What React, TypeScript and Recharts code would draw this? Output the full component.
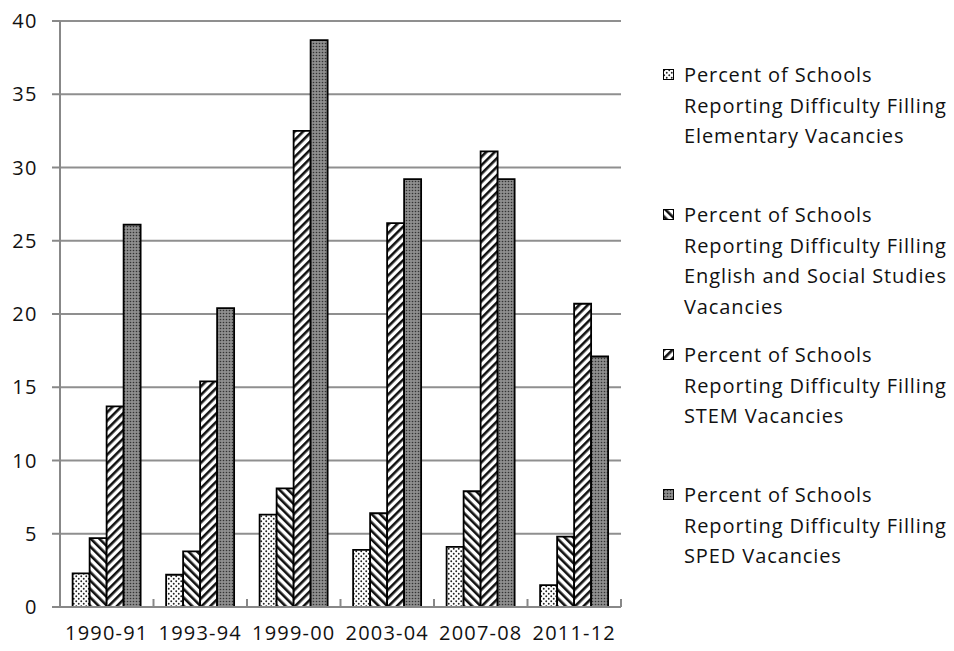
import React from 'react'
import { BarChart, Bar, XAxis, YAxis, CartesianGrid, Legend } from 'recharts'

const years = ['1990-91', '1993-94', '1999-00', '2003-04', '2007-08', '2011-12']
const elementary = [2.3, 2.2, 6.3, 3.9, 4.1, 1.5]
const englishSocial = [4.7, 3.8, 8.1, 6.4, 7.9, 4.8]
const stem = [13.7, 15.4, 32.5, 26.2, 31.1, 20.7]
const sped = [26.1, 20.4, 38.7, 29.2, 29.2, 17.1]
const yTicks = [0, 5, 10, 15, 20, 25, 30, 35, 40]

const seriesInfo = [
  { key: 'elementary', fill: 'url(#patDots)', lines: ['Percent of Schools', 'Reporting Difficulty Filling', 'Elementary Vacancies'] },
  { key: 'englishSocial', fill: 'url(#patBack)', lines: ['Percent of Schools', 'Reporting Difficulty Filling', 'English and Social Studies', 'Vacancies'] },
  { key: 'stem', fill: 'url(#patFwd)', lines: ['Percent of Schools', 'Reporting Difficulty Filling', 'STEM Vacancies'] },
  { key: 'sped', fill: 'url(#patGray)', lines: ['Percent of Schools', 'Reporting Difficulty Filling', 'SPED Vacancies'] },
]

const data = years.map((year, i) => ({
  year,
  elementary: elementary[i],
  englishSocial: englishSocial[i],
  stem: stem[i],
  sped: sped[i],
}))

const FONT = "'Open Sans', sans-serif"
const TEXT = '#111'

// category label plus the boundary tick marks like the original
const XTick = (props: any) => {
  const { x, y, payload, index } = props
  const half = payload && payload.offset ? payload.offset : 46.75
  const axisY = y - 8
  return (
    <g>
      <line x1={x - half} x2={x - half} y1={axisY - 8} y2={axisY} stroke='#888' strokeWidth={2} />
      {index === years.length - 1 && (
        <line x1={x + half} x2={x + half} y1={axisY - 8} y2={axisY} stroke='#888' strokeWidth={2} />
      )}
      <text x={x} y={y} dy={25} textAnchor='middle' fill={TEXT} fontSize={20} letterSpacing={1.2} fontFamily={FONT}>
        {payload.value}
      </text>
    </g>
  )
}

const LegendBox = () => (
  <div style={{ position: 'relative', width: 320, height: 560, fontFamily: FONT, fontSize: 20, letterSpacing: 0.9, color: TEXT }}>
    {seriesInfo.map((s, i) => (
      <div key={s.key} style={{ position: 'absolute', left: 0, top: 39 + i * 140 }}>
        <svg width={12} height={12} style={{ position: 'absolute', left: 42, top: 9 }}>
          <rect x={0.5} y={0.5} width={10} height={10} fill={s.fill} stroke='#000' strokeWidth={1} />
        </svg>
        {s.lines.map((l, j) => (
          <div key={j} style={{ position: 'absolute', left: 63, top: j * 30.5, lineHeight: '30.5px', whiteSpace: 'nowrap' }}>
            {l}
          </div>
        ))}
      </div>
    ))}
  </div>
)

export default function App() {
  return (
    <div style={{ position: 'absolute', left: 0, top: 0, background: '#fff' }}>
      <BarChart width={954} height={651} data={data} margin={{ top: 21, right: 13, bottom: 0, left: 0 }} barCategoryGap='13.5%' barGap={0}>
        <defs>
          <pattern id='patDots' width={5} height={5} patternUnits='userSpaceOnUse'>
            <rect width={5} height={5} fill='#fff' />
            <circle cx={1.25} cy={1.25} r={0.95} fill='#222' />
            <circle cx={3.75} cy={3.75} r={0.95} fill='#222' />
          </pattern>
          <pattern id='patBack' width={6} height={6} patternUnits='userSpaceOnUse' patternTransform='rotate(-45)'>
            <rect width={6} height={6} fill='#fff' />
            <rect width={2.6} height={6} fill='#111' />
          </pattern>
          <pattern id='patFwd' width={6} height={6} patternUnits='userSpaceOnUse' patternTransform='rotate(45)'>
            <rect width={6} height={6} fill='#fff' />
            <rect width={2.6} height={6} fill='#111' />
          </pattern>
          <pattern id='patGray' width={3} height={3} patternUnits='userSpaceOnUse'>
            <rect width={3} height={3} fill='#8e8e8e' />
            <circle cx={1.5} cy={1.5} r={0.8} fill='#333' />
          </pattern>
        </defs>
        <CartesianGrid vertical={false} stroke='#8f8f8f' strokeWidth={2} />
        <XAxis
          dataKey='year'
          height={44}
          axisLine={{ stroke: '#888', strokeWidth: 2 }}
          tickLine={false}
          tickSize={8}
          tickMargin={0}
          interval={0}
          tick={<XTick />}
        />
        <YAxis
          width={60}
          domain={[0, 40]}
          ticks={yTicks}
          interval={0}
          axisLine={{ stroke: '#888', strokeWidth: 2 }}
          tickLine={{ stroke: '#888', strokeWidth: 2 }}
          tickSize={8}
          tickMargin={14}
          tick={{ fill: TEXT, fontSize: 20, fontFamily: FONT, letterSpacing: 1.5 }}
        />
        <Legend layout='vertical' align='right' verticalAlign='top' width={320} content={<LegendBox />} />
        {seriesInfo.map((s) => (
          <Bar key={s.key} dataKey={s.key} fill={s.fill} stroke='#000' strokeWidth={1.8} isAnimationActive={false} />
        ))}
      </BarChart>
    </div>
  )
}
